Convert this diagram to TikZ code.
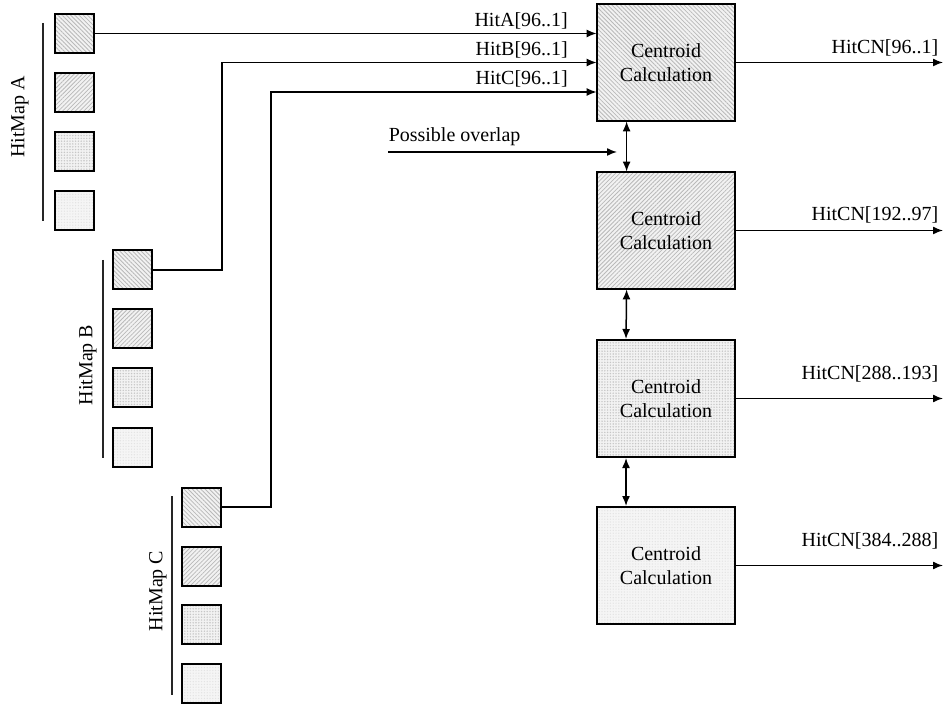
\documentclass[tikz,border=0pt]{standalone}
\usepackage{fontspec}
\setmainfont{Liberation Serif}
\usetikzlibrary{arrows.meta,patterns.meta,calc}

\tikzset{
  cbox/.style={draw, line width=1pt, minimum width=69pt, minimum height=58.5pt, inner sep=0pt, align=center},
  cell/.style={draw, line width=1pt, minimum size=19.5pt, inner sep=0pt},
  sig/.style={inner sep=0pt, anchor=base east},
  hatA/.style={preaction={fill=gray!10}, pattern={Lines[angle=-45,distance=1.5pt,line width=0.4pt]}, pattern color=gray!55},
  hatB/.style={preaction={fill=gray!10}, pattern={Lines[angle=45,distance=1.5pt,line width=0.4pt]}, pattern color=gray!55},
  hatC/.style={preaction={fill=gray!10}, pattern={Dots[distance=1.4pt,radius=0.4pt]}, pattern color=gray!45},
  hatD/.style={preaction={fill=gray!8}, pattern={Dots[distance=1.4pt,radius=0.35pt]}, pattern color=gray!22},
  mapline/.style={line width=0.75pt, gray!30!black},
}

\begin{document}
\begin{tikzpicture}[x=0.5pt,y=0.5pt,yscale=-1,xscale=1, >={Latex[length=5pt,width=4pt]}, line width=0.75pt]
		% Set diagram size: 945 wide, 704 high
		\path[use as bounding box] (0,0) rectangle (945,704);

		% The four centroid calculation boxes
		\node[cbox, hatA] (cent1) at (666,62.5) {Centroid\\Calculation};
		\node[cbox, hatB] (cent2) at (666,230.5) {Centroid\\Calculation};
		\node[cbox, hatC] (cent3) at (666,398.5) {Centroid\\Calculation};
		\node[cbox, hatD] (cent4) at (666,565.5) {Centroid\\Calculation};

		% Cells of HitMap A
		\node[cell, hatA] (hA1) at (74,33.5) {};
		\node[cell, hatB] (hA2) at (74,92.5) {};
		\node[cell, hatC] (hA3) at (74,151.5) {};
		\node[cell, hatD] (hA4) at (74,210.5) {};

		% Cells of HitMap B
		\node[cell, hatA] (hB1) at (132.5,270) {};
		\node[cell, hatB] (hB2) at (132.5,329) {};
		\node[cell, hatC] (hB3) at (132.5,388) {};
		\node[cell, hatD] (hB4) at (132.5,447.5) {};

		% Cells of HitMap C
		\node[cell, hatA] (hC1) at (201.5,507) {};
		\node[cell, hatB] (hC2) at (201.5,566) {};
		\node[cell, hatC] (hC3) at (201.5,624.5) {};
		\node[cell, hatD] (hC4) at (201.5,683.5) {};

		% Bars and names of the hit maps
		\draw[mapline] (43,23) -- (43,221);
		\draw[mapline] (103,260) -- (103,458);
		\draw[mapline] (172,496) -- (172,695);
		\node[rotate=90] (mapA) at (20,117) {HitMap A};
		\node[rotate=90] (mapB) at (88,365) {HitMap B};
		\node[rotate=90] (mapC) at (158,591) {HitMap C};

		% Turning points of the input lines
		\coordinate (bturn) at (222,0);
		\coordinate (cturn) at (271,0);
		\coordinate (inC) at ($(cent1.west)+(0,29.5)$);

		% Inputs HitA, HitB, HitC into the first box
		\draw[->] (hA1.east) -- (hA1.east -| cent1.west) node[sig, pos=1, xshift=-14pt, yshift=3.5pt] (lA) {HitA[96..1]};
		\draw[->] (hB1.east) -| (bturn |- cent1.west) -- (cent1.west) node[sig, pos=1, xshift=-14pt, yshift=3.5pt] (lB) {HitB[96..1]};
		\draw[->] (hC1.east) -| (cturn |- inC) -- (inC) node[sig, pos=1, xshift=-14pt, yshift=3.5pt] (lC) {HitC[96..1]};

		% Outputs of the boxes
		\coordinate (outx) at (943,0);
		\draw[->] (cent1.east) -- (cent1.east -| outx) node[sig, pos=1, xshift=-2pt, yshift=4.5pt] (lo1) {HitCN[96..1]};
		\draw[->] (cent2.east) -- (cent2.east -| outx) node[sig, pos=1, xshift=-2pt, yshift=5pt] (lo2) {HitCN[192..97]};
		\draw[->] (cent3.east) -- (cent3.east -| outx) node[sig, pos=1, xshift=-2pt, yshift=9.5pt] (lo3) {HitCN[288..193]};
		\draw[->] (cent4.east) -- (cent4.east -| outx) node[sig, pos=1, xshift=-2pt, yshift=9.5pt] (lo4) {HitCN[384..288]};

		% Double arrows between neighbouring boxes
		\draw[<->] ($(cent1.south west)+(30,0)$) -- ($(cent2.north west)+(30,0)$);
		\draw[<->] ($(cent2.south west)+(30,0)$) -- ($(cent3.north west)+(30,0)$);
		\draw[<->] ($(cent3.south west)+(30,0)$) -- ($(cent4.north west)+(30,0)$);

		% Possible overlap
		\coordinate (ovl) at (388,152);
		\coordinate (ovlend) at (617,152);
		\draw[->] (ovl) -- (ovlend);
		\node[anchor=base west, inner sep=0pt] (lovl) at ($(ovl)+(0,-10)$) {Possible overlap};
	\end{tikzpicture}
\end{document}
